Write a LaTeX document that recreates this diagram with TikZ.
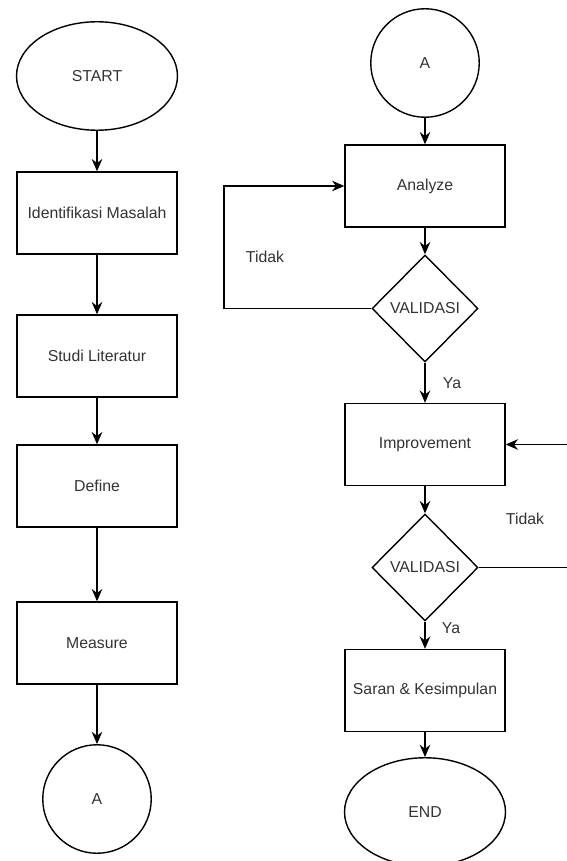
\documentclass[tikz,border=0pt]{standalone}
\usepackage{fontspec}
\setmainfont{Liberation Sans}
\usetikzlibrary{arrows.meta,shapes.geometric}

\tikzset{
  proses/.style={draw,line width=0.8pt,minimum width=3.2cm,minimum height=1.64cm,inner sep=1pt},
  terminal/.style={draw,ellipse,line width=0.8pt,minimum width=3.22cm,minimum height=2.17cm,inner sep=1pt},
  konektor/.style={draw,circle,line width=0.8pt,minimum size=2.17cm,inner sep=1pt},
  keputusan/.style={draw,diamond,line width=0.8pt,minimum width=2.12cm,minimum height=2.14cm,inner sep=1pt},
  alur/.style={-{Stealth[length=7pt,width=6pt]},line width=0.8pt},
  ket/.style={inner sep=0pt}
}

\begin{document}
\begin{tikzpicture}[x=0.02cm,y=-0.02cm,font=\fontsize{9}{11}\selectfont,text=black!80]
\useasboundingbox (0,0) rectangle (566,861);
% kolom kiri
\node[terminal] (start) at (97,76) {START};
\node[proses] (ident) at (97,213) {Identifikasi Masalah};
\node[proses] (studi) at (97,356) {Studi Literatur};
\node[proses] (define) at (97,486) {Define};
\node[proses] (measure) at (97,643) {Measure};
\node[konektor] (a1) at (97,799) {A};
% kolom kanan
\node[konektor] (a2) at (425,63) {A};
\node[proses] (analyze) at (425,186) {Analyze};
\node[keputusan] (val1) at (425,308.5) {VALIDASI};
\node[proses] (impr) at (425,444.5) {Improvement};
\node[keputusan] (val2) at (425,567.5) {VALIDASI};
\node[proses] (saran) at (425,690.5) {Saran \& Kesimpulan};
\node[terminal] (end) at (425,812) {END};
% label
\node[ket] (tidak1) at (265,257) {Tidak};
\node[ket] (ya1) at (452,383) {Ya};
\node[ket] (tidak2) at (525,519) {Tidak};
\node[ket] (ya2) at (451,628) {Ya};
\coordinate (k1) at (224,308.5);
\coordinate (k2) at (224,186);
\coordinate (k3) at (569,567.5);
\coordinate (k4) at (569,444.5);

\draw[alur] (start) -- (ident);
\draw[alur] (ident) -- (studi);
\draw[alur] (studi) -- (define);
\draw[alur] (define) -- (measure);
\draw[alur] (measure) -- (a1);
\draw[alur] (a2) -- (analyze);
\draw[alur] (analyze) -- (val1);
\draw[alur] (val1) -- (impr);
\draw[alur] (impr) -- (val2);
\draw[alur] (val2) -- (saran);
\draw[alur] (saran) -- (end);
\draw[alur] (val1.west) -- (k1) -- (k2) -- (analyze.west);
\draw[alur] (val2.east) -- (k3) -- (k4) -- (impr.east);
\end{tikzpicture}
\end{document}
